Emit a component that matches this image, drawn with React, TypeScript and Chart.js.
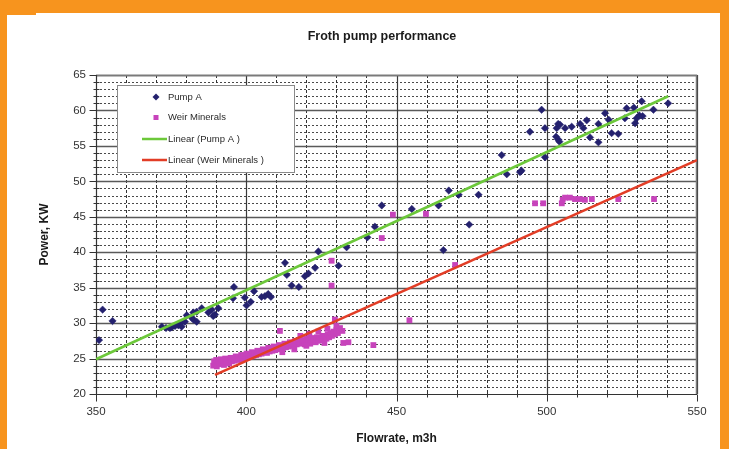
import React, { useEffect, useRef } from 'react';
import { Chart, registerables } from 'chart.js';

Chart.register(...registerables);

// ---------- data ----------
const pumpAFlow = [
  351.0, 352.2, 355.5, 371.9, 373.3, 374.6, 375.2, 376.3, 377.4, 378.0,
  378.5, 379.6, 380.2, 381.8, 382.4, 382.4, 383.5, 383.5, 385.2, 387.4,
  388.5, 389.0, 389.6, 390.7, 395.9, 395.6, 399.5, 400.1, 401.5, 402.6,
  405.1, 406.2, 407.3, 408.2, 412.9, 413.5, 415.1, 417.5, 419.5, 420.7,
  422.9, 424.0, 430.7, 433.4, 440.3, 442.8, 445.1, 455.1, 464.0, 465.6,
  467.4, 470.7, 474.2, 477.3, 485.0, 486.7, 491.1, 491.6, 494.4, 498.3,
  499.4, 499.4, 503.3, 503.8, 504.4, 503.1, 503.8, 504.2, 506.1, 508.3,
  511.1, 512.2, 513.3, 514.4, 517.2, 517.2, 519.4, 520.6, 521.6, 523.8,
  526.0, 526.6, 529.0, 529.4, 529.9, 530.8, 531.9, 531.6, 535.5, 540.4,
];
const pumpAPower = [
  27.6, 31.9, 30.3, 29.5, 29.3, 29.3, 29.4, 29.6, 29.7, 29.9,
  29.5, 30.2, 31.1, 30.8, 31.5, 30.5, 30.2, 31.6, 32.1, 31.5,
  31.9, 31.0, 31.2, 32.1, 35.1, 33.5, 33.6, 32.5, 33.0, 34.5,
  33.7, 33.8, 34.1, 33.7, 38.5, 36.8, 35.3, 35.1, 36.6, 37.0,
  37.8, 40.1, 38.1, 40.7, 42.1, 43.6, 46.6, 46.1, 46.6, 40.3,
  48.7, 48.1, 43.9, 48.1, 53.7, 51.0, 51.3, 51.5, 57.0, 60.1,
  57.5, 53.4, 57.5, 58.1, 58.0, 56.3, 55.9, 55.6, 57.5, 57.7,
  58.1, 57.5, 58.6, 56.2, 55.5, 58.1, 59.6, 58.7, 56.8, 56.7,
  58.9, 60.3, 60.4, 58.2, 58.9, 59.3, 59.2, 61.3, 60.1, 61.0,
];

const weirFlow = [
  389.0, 389.3, 389.6, 390.0, 390.2, 390.7, 391.0, 391.5, 391.8, 392.3,
  392.6, 393.0, 393.4, 393.9, 394.3, 394.8, 395.2, 395.6, 396.1, 396.5,
  397.0, 397.4, 397.9, 398.3, 398.8, 399.2, 399.7, 400.1, 400.6, 401.0,
  401.5, 401.9, 402.4, 402.8, 403.3, 403.7, 404.2, 404.6, 405.1, 405.5,
  406.0, 406.4, 406.9, 407.3, 407.8, 408.2, 408.7, 409.1, 409.6, 410.0,
  410.5, 410.9, 411.4, 411.8, 412.3, 412.7, 413.2, 413.6, 414.1, 414.5,
  415.0, 415.4, 415.9, 416.3, 416.8, 417.2, 417.7, 418.1, 418.6, 419.0,
  419.5, 419.9, 420.4, 420.8, 421.3, 421.7, 422.2, 422.6, 423.1, 423.5,
  424.0, 424.4, 424.9, 425.3, 425.8, 426.2, 426.7, 427.1, 427.6, 428.0,
  428.5, 429.0, 429.5, 430.0, 430.5, 431.2, 432.0,
  412.0, 416.0, 418.0, 420.0, 421.0, 424.0, 426.0, 427.0, 430.0,
  411.2, 428.4, 428.4, 429.5, 432.3, 434.0, 442.3, 445.1, 448.8, 454.3,
  459.8, 469.5, 496.1, 498.8, 505.0, 505.3, 506.1, 507.7, 509.4, 511.0,
  512.7, 515.0, 523.8, 535.7,
];
const weirPower = [
  24.0, 24.6, 24.3, 24.8, 23.9, 24.5, 24.2, 24.9, 24.4, 24.7,
  24.1, 25.0, 24.5, 24.8, 24.3, 25.1, 24.6, 25.0, 24.7, 25.3,
  24.9, 25.2, 24.8, 25.5, 25.0, 25.4, 25.1, 25.7, 25.2, 25.6,
  25.3, 25.9, 25.4, 25.8, 25.5, 26.1, 25.6, 26.0, 25.7, 26.3,
  25.9, 26.2, 25.8, 26.5, 26.0, 26.4, 26.1, 26.7, 26.2, 26.6,
  26.3, 26.9, 26.4, 26.8, 26.5, 27.1, 26.6, 27.0, 26.7, 27.3,
  26.8, 27.2, 26.9, 27.5, 27.0, 27.4, 27.1, 27.6, 27.2, 27.5,
  27.0, 27.8, 27.3, 27.6, 27.1, 27.9, 27.4, 27.7, 27.3, 28.0,
  27.5, 27.9, 27.6, 28.2, 27.7, 28.1, 27.8, 28.4, 28.0, 28.6,
  28.2, 28.8, 28.4, 29.0, 28.6, 29.3, 28.9,
  25.9, 26.3, 28.2, 26.8, 28.5, 28.8, 27.2, 29.2, 29.6,
  28.9, 38.8, 35.3, 30.5, 27.2, 27.3, 26.9, 42.0, 45.3, 30.4,
  45.4, 38.2, 46.9, 46.9, 46.9, 47.4, 47.7, 47.7, 47.5, 47.5,
  47.4, 47.5, 47.5, 47.5,
];

const pumpATrendFlow = [350, 540.4];
const pumpATrendPower = [24.9, 62.0];
const weirTrendFlow = [389.6, 550];
const weirTrendPower = [22.7, 53.0];

const xTicks = [350, 400, 450, 500, 550];
const yTicks = [20, 25, 30, 35, 40, 45, 50, 55, 60, 65];

const chartTitle = 'Froth pump performance';
const xTitle = 'Flowrate, m3h';
const yTitle = 'Power, KW';
const seriesNames = ['Pump A', 'Weir Minerals', 'Linear (Pump A )', 'Linear (Weir Minerals )'];

// ---------- styles ----------
const W = 729;
const H = 449;
const ORANGE = '#f7941e';
const PUMP_COLOR = '#24216e';
const WEIR_COLOR = '#c743bb';
const GREEN = '#6cc83a';
const RED = '#e23d26';
const FONT = 'Arial, "Liberation Sans", sans-serif';

const zip = (xs: number[], ys: number[]) => xs.map((x, i) => ({ x, y: ys[i] }));

const decorPlugin = {
  id: 'decor',
  beforeDraw(chart: any) {
    const ctx = chart.ctx;
    ctx.save();
    ctx.fillStyle = '#ffffff';
    ctx.fillRect(0, 0, W, H);
    ctx.fillStyle = ORANGE;
    ctx.fillRect(0, 0, W, 13);
    ctx.fillRect(0, 0, 7, H);
    ctx.fillRect(0, 0, 36, 15);
    ctx.fillRect(720, 0, W - 720, H);
    ctx.fillStyle = '#1a1a1a';
    ctx.font = `bold 12.5px ${FONT}`;
    ctx.textAlign = 'center';
    ctx.textBaseline = 'middle';
    ctx.fillText(chartTitle, 382, 37);
    ctx.restore();
  },
  beforeDatasetsDraw(chart: any) {
    const ctx = chart.ctx;
    const { left, right, top, bottom } = chart.chartArea;
    const xs = chart.scales.x;
    const ys = chart.scales.y;
    const px = (v: number) => Math.round(xs.getPixelForValue(v)) + 0.5;
    const py = (v: number) => Math.round(ys.getPixelForValue(v)) + 0.5;
    ctx.save();
    ctx.fillStyle = '#ffffff';
    ctx.fillRect(left, top, right - left, bottom - top);
    // minor horizontal dotted
    ctx.lineWidth = 1;
    ctx.strokeStyle = '#4a4a4a';
    ctx.setLineDash([2, 2]);
    for (let v = 21; v < 65; v++) {
      if (v % 5 === 0) continue;
      ctx.beginPath();
      ctx.moveTo(left, py(v));
      ctx.lineTo(right, py(v));
      ctx.stroke();
    }
    // minor vertical dashed
    ctx.strokeStyle = '#333333';
    ctx.setLineDash([3, 2]);
    for (let v = 360; v < 550; v += 10) {
      if (v % 50 === 0) continue;
      ctx.beginPath();
      ctx.moveTo(px(v), top);
      ctx.lineTo(px(v), bottom);
      ctx.stroke();
    }
    ctx.setLineDash([]);
    // major horizontal
    ctx.strokeStyle = '#5a5a5a';
    ctx.lineWidth = 1.5;
    for (const v of yTicks) {
      if (v === 20) continue;
      ctx.beginPath();
      ctx.moveTo(left, py(v));
      ctx.lineTo(right, py(v));
      ctx.stroke();
    }
    // major vertical
    ctx.strokeStyle = '#3a3a3a';
    ctx.lineWidth = 1.2;
    for (const v of xTicks) {
      if (v === 350) continue;
      ctx.beginPath();
      ctx.moveTo(px(v), top);
      ctx.lineTo(px(v), bottom);
      ctx.stroke();
    }
    // border
    ctx.strokeStyle = '#7a7a7a';
    ctx.lineWidth = 1.5;
    ctx.beginPath();
    ctx.moveTo(left, top + 0.5);
    ctx.lineTo(right - 0.5, top + 0.5);
    ctx.lineTo(right - 0.5, bottom);
    ctx.stroke();
    // axes
    ctx.strokeStyle = '#333333';
    ctx.lineWidth = 1.2;
    ctx.beginPath();
    ctx.moveTo(px(350), top);
    ctx.lineTo(px(350), py(20));
    ctx.lineTo(right, py(20));
    ctx.stroke();
    // tick marks
    ctx.lineWidth = 1;
    for (let v = 20; v <= 65; v++) {
      const major = v % 5 === 0;
      ctx.beginPath();
      ctx.moveTo(px(350) - (major ? 7 : 3), py(v));
      ctx.lineTo(px(350) + (major ? 0 : 3), py(v));
      ctx.stroke();
    }
    for (let v = 350; v <= 550; v += 10) {
      const major = v % 50 === 0;
      ctx.beginPath();
      ctx.moveTo(px(v), py(20) - (major ? 0 : 3));
      ctx.lineTo(px(v), py(20) + (major ? 7 : 3));
      ctx.stroke();
    }
    ctx.restore();
  },
  afterDatasetsDraw(chart: any) {
    const ctx = chart.ctx;
    ctx.save();
    ctx.fillStyle = '#ffffff';
    ctx.fillRect(117, 85, 177, 87);
    ctx.strokeStyle = '#8a8a8a';
    ctx.lineWidth = 1;
    ctx.strokeRect(117.5, 85.5, 177, 87);
    // markers
    ctx.fillStyle = PUMP_COLOR;
    ctx.beginPath();
    ctx.moveTo(156, 93.5);
    ctx.lineTo(159.5, 97);
    ctx.lineTo(156, 100.5);
    ctx.lineTo(152.5, 97);
    ctx.closePath();
    ctx.fill();
    ctx.fillStyle = WEIR_COLOR;
    ctx.fillRect(153.5, 115, 5, 5);
    ctx.lineWidth = 2.5;
    ctx.strokeStyle = GREEN;
    ctx.beginPath();
    ctx.moveTo(142, 139);
    ctx.lineTo(167, 139);
    ctx.stroke();
    ctx.strokeStyle = RED;
    ctx.beginPath();
    ctx.moveTo(142, 160);
    ctx.lineTo(167, 160);
    ctx.stroke();
    ctx.fillStyle = '#2a2a2a';
    ctx.font = `9.5px ${FONT}`;
    ctx.textAlign = 'left';
    ctx.textBaseline = 'middle';
    const ys = [97, 117.5, 139, 160];
    seriesNames.forEach((s, i) => ctx.fillText(s, 168, ys[i]));
    ctx.restore();
  },
};

export default function App() {
  const ref = useRef<HTMLCanvasElement>(null);
  useEffect(() => {
    if (!ref.current) return;
    const chart = new Chart(ref.current, {
      type: 'scatter',
      data: {
        datasets: [
          {
            type: 'line',
            label: seriesNames[2],
            data: zip(pumpATrendFlow, pumpATrendPower),
            borderColor: GREEN,
            borderWidth: 2.6,
            pointRadius: 0,
            showLine: true,
            fill: false,
          } as any,
          {
            type: 'line',
            label: seriesNames[3],
            data: zip(weirTrendFlow, weirTrendPower),
            borderColor: RED,
            borderWidth: 2.6,
            pointRadius: 0,
            showLine: true,
            fill: false,
          } as any,
          {
            label: seriesNames[0],
            data: zip(pumpAFlow, pumpAPower),
            pointStyle: 'rectRot',
            pointRadius: 3.7,
            backgroundColor: PUMP_COLOR,
            borderColor: PUMP_COLOR,
            borderWidth: 0.5,
          },
          {
            label: seriesNames[1],
            data: zip(weirFlow, weirPower),
            pointStyle: 'rect',
            pointRadius: 4.1,
            backgroundColor: WEIR_COLOR,
            borderColor: WEIR_COLOR,
            borderWidth: 0,
          },
        ],
      },
      options: {
        responsive: false,
        animation: false,
        devicePixelRatio: 1,
        layout: { padding: { left: 0, right: 32, top: 75, bottom: 0 } },
        plugins: {
          legend: { display: false },
          tooltip: { enabled: false },
          title: { display: false },
        },
        scales: {
          x: {
            type: 'linear',
            min: 350,
            max: 550,
            afterBuildTicks: (s: any) => { s.ticks = xTicks.map((v) => ({ value: v })); },
            afterFit: (s: any) => { s.height = 55; },
            ticks: { color: '#333', font: { family: FONT, size: 11.5 }, padding: 11, maxRotation: 0 },
            grid: { display: false, drawTicks: false },
            border: { display: false },
            title: {
              display: true,
              text: xTitle,
              color: '#1a1a1a',
              font: { family: FONT, size: 12, weight: 'bold' },
              padding: { top: 0, bottom: 2.8 },
            },
          },
          y: {
            type: 'linear',
            min: 20,
            max: 65,
            afterBuildTicks: (s: any) => { s.ticks = yTicks.map((v) => ({ value: v })); },
            afterFit: (s: any) => { s.width = 96; },
            ticks: { color: '#333', font: { family: FONT, size: 11.5 }, padding: 10 },
            grid: { display: false, drawTicks: false },
            border: { display: false },
            title: {
              display: true,
              text: yTitle,
              color: '#1a1a1a',
              font: { family: FONT, size: 12, weight: 'bold' },
              padding: { top: 37.8, bottom: 0 },
            },
          },
        },
      },
      plugins: [decorPlugin],
    });
    return () => chart.destroy();
  }, []);
  return (
    <div style={{ position: 'fixed', left: 0, top: 0, width: W, height: H, background: '#fff' }}>
      <canvas ref={ref} width={W} height={H} style={{ display: 'block' }} />
    </div>
  );
}
